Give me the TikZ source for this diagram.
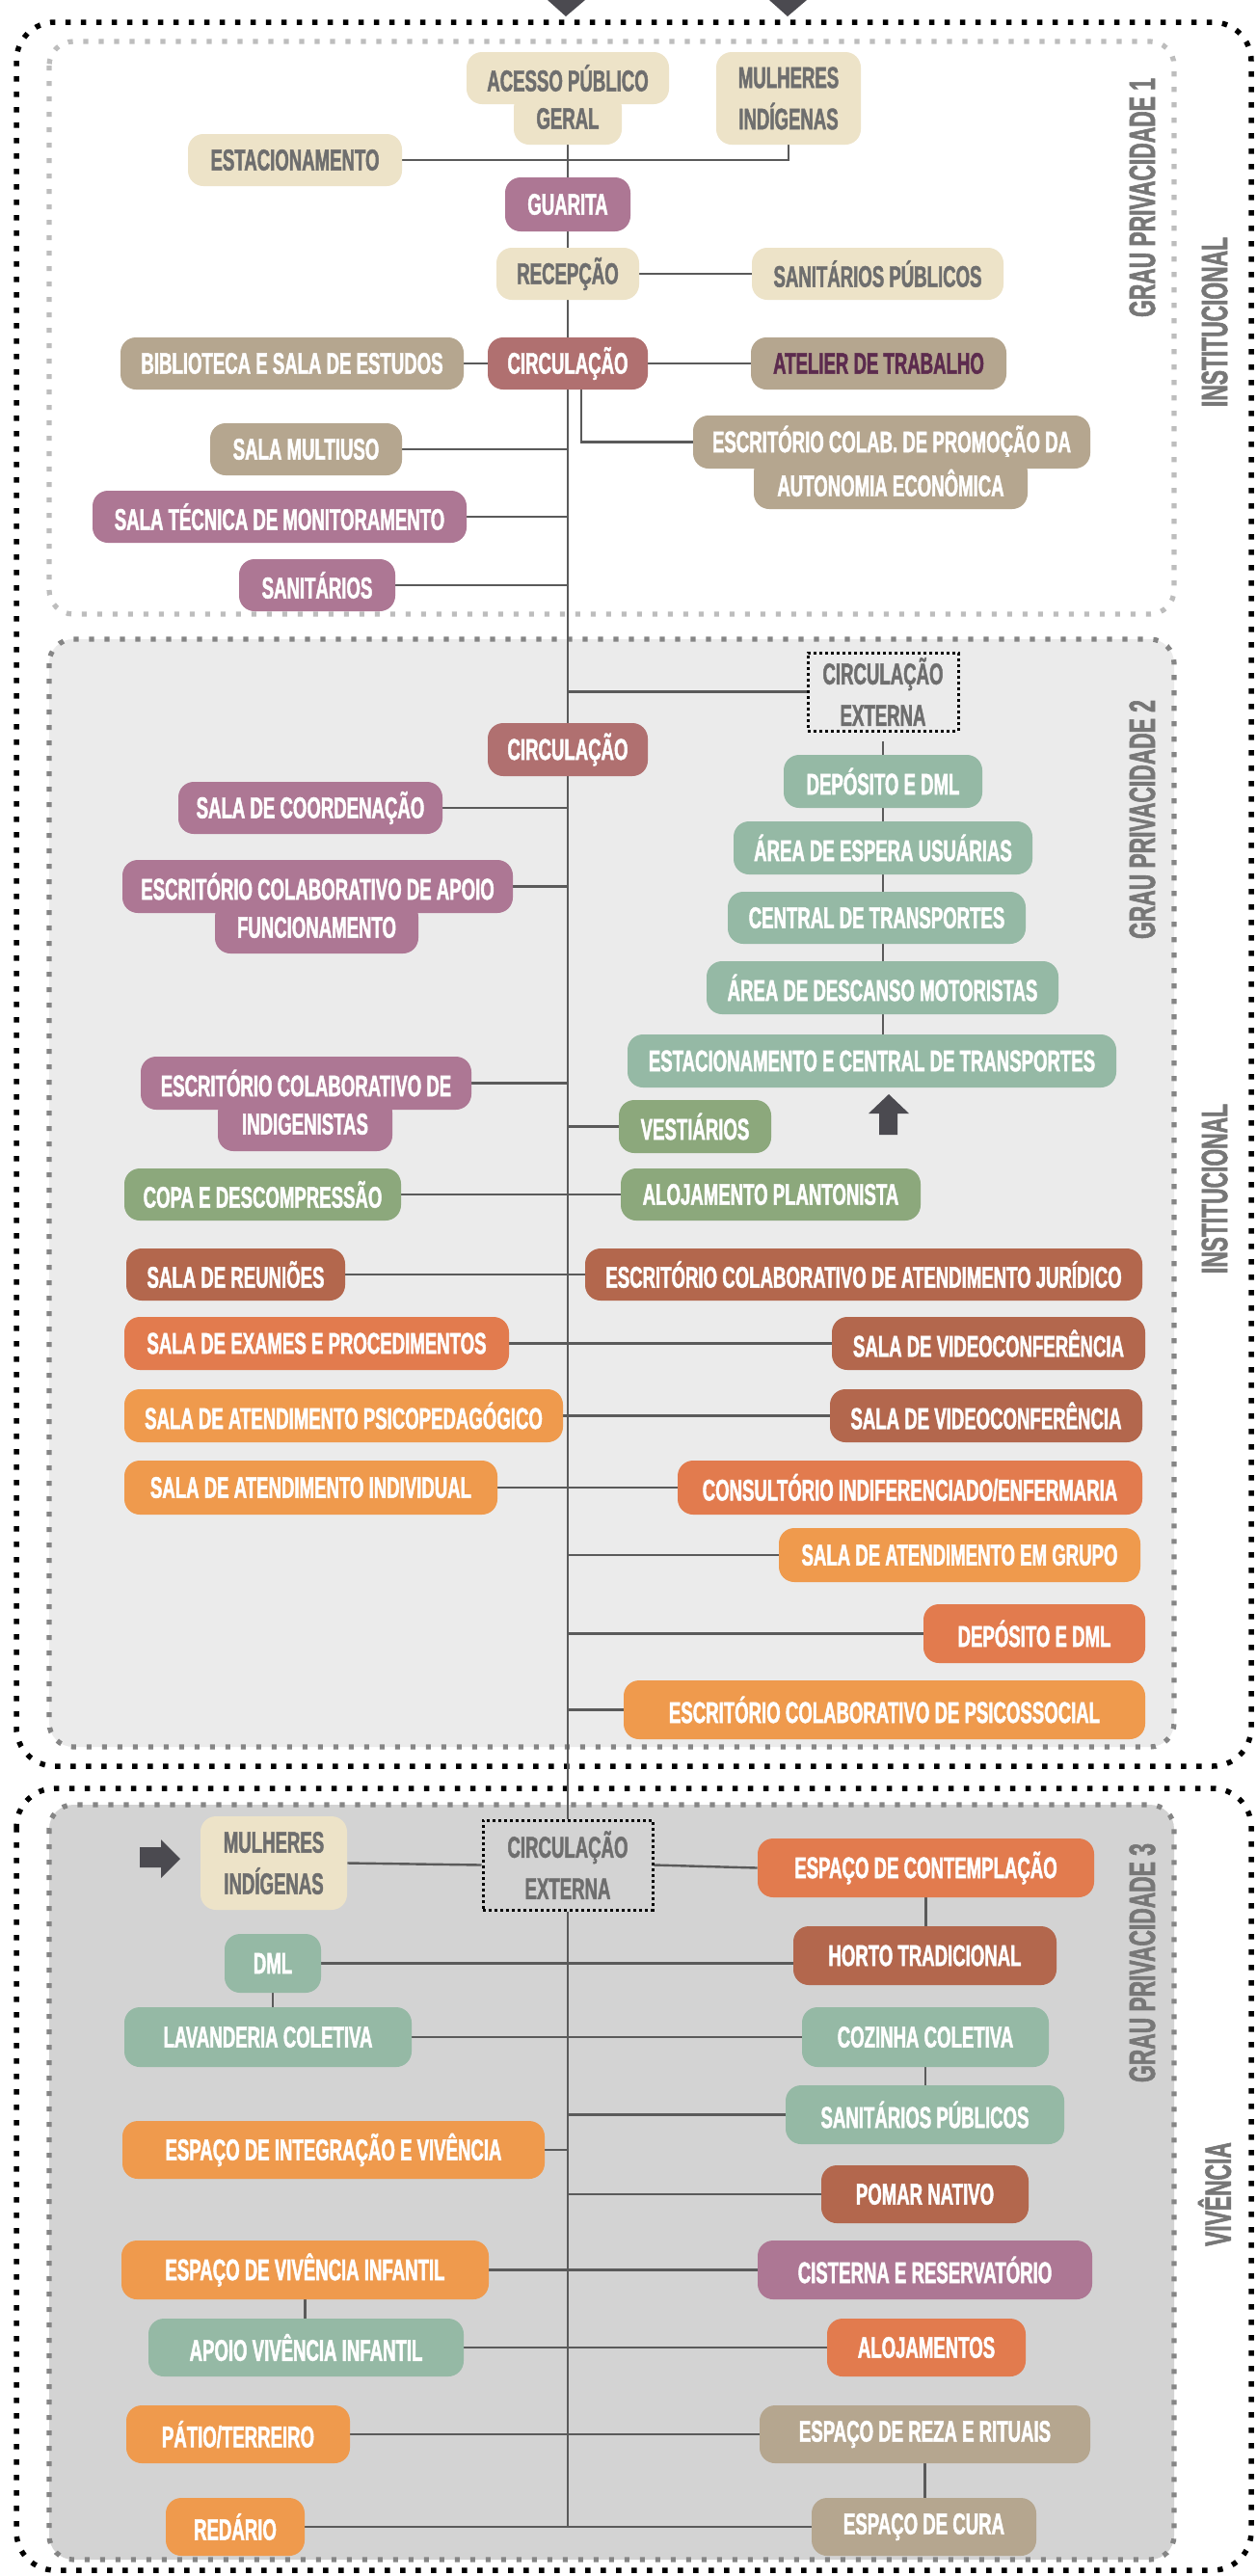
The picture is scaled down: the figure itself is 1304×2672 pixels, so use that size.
\documentclass[tikz,border=0pt]{standalone}
\usepackage{fontspec}
\newfontfamily\cf{Liberation Sans}[FakeStretch=0.6, FakeBold=1.5]
\pgfdeclarelayer{zone}\pgfdeclarelayer{wire}
\pgfsetlayers{zone,wire,main}
\definecolor{cBei}{HTML}{EDE3C8}
\definecolor{cPur}{HTML}{AD7794}
\definecolor{cRos}{HTML}{B07070}
\definecolor{cTau}{HTML}{B5A68F}
\definecolor{cGrn}{HTML}{95B9A5}
\definecolor{cOli}{HTML}{8CA87C}
\definecolor{cBrn}{HTML}{B3674D}
\definecolor{cOrg}{HTML}{E27B4E}
\definecolor{cLor}{HTML}{EF9A4D}
\definecolor{cTxt}{HTML}{6E6E6E}
\definecolor{cLine}{HTML}{5A5A5A}
\definecolor{cArr}{HTML}{4B4A50}
\definecolor{cZtwo}{HTML}{EBEBEB}
\definecolor{cZthree}{HTML}{D3D3D3}
\definecolor{cDash}{HTML}{858585}
\definecolor{cDashL}{HTML}{BDBDBD}
\definecolor{cLab}{HTML}{777777}
\definecolor{cAte}{HTML}{5C2B4E}
\tikzset{
  room/.style={rounded corners=8pt, inner sep=0pt, text=white, align=center,
    font=\cf\bfseries\fontsize{15.5}{21.5}\selectfont},
  bei/.style={room, fill=cBei, text=cTxt},
  pur/.style={room, fill=cPur},
  ros/.style={room, fill=cRos},
  tau/.style={room, fill=cTau},
  grn/.style={room, fill=cGrn},
  oli/.style={room, fill=cOli},
  brn/.style={room, fill=cBrn},
  org/.style={room, fill=cOrg},
  lor/.style={room, fill=cLor},
  ext/.style={inner sep=0pt, draw=black, line width=1.5pt, dash pattern=on 1.5pt off 1.5pt,
    text=cTxt, align=center, font=\cf\bfseries\fontsize{15.5}{21.5}\selectfont},
  wire/.style={draw=cLine, line width=1.2pt},
  lab/.style={text=cLab, rotate=90, inner sep=0pt, font=\cf\bfseries\fontsize{19}{20}\selectfont},
  outerz/.style={draw=black, line width=2.75pt, dash pattern=on 2.75pt off 5.25pt, rounded corners=20pt},
  innerz/.style={line width=2.6pt, dash pattern=on 2.6pt off 5.4pt, rounded corners=12.5pt},
}
\newcommand\bx[7]{\node[#2, minimum width={(#5-(#3))*0.5pt}, minimum height={(#6-(#4))*0.5pt}] (#1) at ({(#3+#5)/2},{(#4+#6)/2}) {#7};}
\begin{document}
\begin{tikzpicture}[x=0.5pt,y=-0.5pt]
\useasboundingbox (0,0) rectangle (1304,2672);
\begin{pgfonlayer}{zone}
\fill[white] (0,0) rectangle (1304,2672);
\draw[innerz, draw=cDashL, fill=white] (51,43) rectangle (1218,637);
\draw[innerz, draw=cDash, fill=cZtwo] (51,663) rectangle (1218,1812);
\draw[innerz, draw=cDash, fill=cZthree] (51,1872) rectangle (1218,2655);
\draw[outerz] (17,23) rectangle (1298,1832);
\draw[outerz] (17,1855) rectangle (1298,2666);
\end{pgfonlayer}
% arrows
\fill[cArr] (568,0) -- (607,0) -- (587,17) -- cycle;
\fill[cArr] (798,0) -- (837,0) -- (817,17) -- cycle;
\fill[cArr] (912,1177) -- (931,1177) -- (931,1155) -- (943,1155) -- (922,1135) -- (901,1155) -- (912,1155) -- cycle;
\fill[cArr] (145,1916) -- (167,1916) -- (167,1908) -- (187,1928) -- (167,1948) -- (167,1937) -- (145,1937) -- cycle;
% labels
\node[lab] (gp1) at (1185,205) {GRAU PRIVACIDADE 1};
\node[lab] (in1) at (1260,334) {INSTITUCIONAL};
\node[lab] (gp2) at (1185,850) {GRAU PRIVACIDADE 2};
\node[lab] (in2) at (1260,1233) {INSTITUCIONAL};
\node[lab] (gp3) at (1185,2036) {GRAU PRIVACIDADE 3};
\node[lab] (viv) at (1260,2276) {VIVÊNCIA};
% zone 1
\bx{acc1}{bei}{484}{54}{694}{108}{ACESSO PÚBLICO}
\bx{acc2}{bei}{533}{96}{645}{150}{GERAL}
\bx{mul1}{bei}{743}{54}{893}{150}{MULHERES\\INDÍGENAS}
\bx{est}{bei}{195}{139}{417}{193}{ESTACIONAMENTO}
\bx{gua}{pur}{524}{184}{654}{240}{GUARITA}
\bx{rec}{bei}{515}{257}{663}{311}{RECEPÇÃO}
\bx{sanA}{bei}{780}{257}{1041}{311}{SANITÁRIOS PÚBLICOS}
\bx{cirA}{ros}{506}{350}{672}{404}{CIRCULAÇÃO}
\bx{bib}{tau}{125}{350}{481}{404}{BIBLIOTECA E SALA DE ESTUDOS}
\bx{ate}{tau, text=cAte}{779}{350}{1044}{404}{ATELIER DE TRABALHO}
\bx{epaA}{tau}{719}{431}{1131}{486}{ESCRITÓRIO COLAB. DE PROMOÇÃO DA}
\bx{epaB}{tau}{782}{474}{1066}{528}{AUTONOMIA ECONÔMICA}
\bx{mult}{tau}{218}{439}{417}{493}{SALA MULTIUSO}
\bx{stm}{pur}{96}{509}{484}{563}{SALA TÉCNICA DE MONITORAMENTO}
\bx{sant}{pur}{248}{580}{410}{634}{SANITÁRIOS}
% zone 2
\bx{ceB}{ext}{838}{677}{994}{758}{CIRCULAÇÃO\\EXTERNA}
\bx{cirB}{ros}{506}{750}{672}{805}{CIRCULAÇÃO}
\bx{coo}{pur}{185}{811}{459}{865}{SALA DE COORDENAÇÃO}
\bx{apoA}{pur}{127}{892}{532}{947}{ESCRITÓRIO COLABORATIVO DE APOIO}
\bx{apoB}{pur}{223}{935}{434}{989}{FUNCIONAMENTO}
\bx{dep}{grn}{813}{783}{1019}{838}{DEPÓSITO E DML}
\bx{esp}{grn}{761}{852}{1071}{907}{ÁREA DE ESPERA USUÁRIAS}
\bx{ctr}{grn}{755}{925}{1064}{979}{CENTRAL DE TRANSPORTES}
\bx{des}{grn}{733}{997}{1098}{1052}{ÁREA DE DESCANSO MOTORISTAS}
\bx{etr}{grn}{651}{1073}{1158}{1128}{ESTACIONAMENTO E CENTRAL DE TRANSPORTES}
\bx{indA}{pur}{146}{1096}{489}{1151}{ESCRITÓRIO COLABORATIVO DE}
\bx{indB}{pur}{226}{1138}{407}{1194}{INDIGENISTAS}
\bx{ves}{oli}{642}{1141}{800}{1196}{VESTIÁRIOS}
\bx{copa}{oli}{129}{1212}{416}{1266}{COPA E DESCOMPRESSÃO}
\bx{alo}{oli}{644}{1212}{955}{1266}{ALOJAMENTO PLANTONISTA}
\bx{reu}{brn}{131}{1295}{358}{1349}{SALA DE REUNIÕES}
\bx{jur}{brn}{607}{1295}{1185}{1349}{ESCRITÓRIO COLABORATIVO DE ATENDIMENTO JURÍDICO}
\bx{exa}{org}{129}{1366}{528}{1421}{SALA DE EXAMES E PROCEDIMENTOS}
\bx{vidA}{brn}{863}{1366}{1188}{1421}{SALA DE VIDEOCONFERÊNCIA}
\bx{psi}{lor}{129}{1441}{584}{1496}{SALA DE ATENDIMENTO PSICOPEDAGÓGICO}
\bx{vidB}{brn}{861}{1441}{1185}{1496}{SALA DE VIDEOCONFERÊNCIA}
\bx{indv}{lor}{129}{1515}{516}{1571}{SALA DE ATENDIMENTO INDIVIDUAL}
\bx{enf}{org}{703}{1515}{1185}{1571}{CONSULTÓRIO INDIFERENCIADO/ENFERMARIA}
\bx{grp}{lor}{808}{1585}{1183}{1641}{SALA DE ATENDIMENTO EM GRUPO}
\bx{dmlB}{org}{958}{1664}{1188}{1725}{DEPÓSITO E DML}
\bx{psc}{lor}{647}{1743}{1188}{1804}{ESCRITÓRIO COLABORATIVO DE PSICOSSOCIAL}
% zone 3
\bx{mulC}{bei}{208}{1884}{360}{1981}{MULHERES\\INDÍGENAS}
\bx{ceC}{ext}{501}{1888}{677}{1981}{CIRCULAÇÃO\\EXTERNA}
\bx{cont}{org}{786}{1907}{1135}{1968}{ESPAÇO DE CONTEMPLAÇÃO}
\bx{hor}{brn}{823}{1998}{1096}{2059}{HORTO TRADICIONAL}
\bx{dmlC}{grn}{233}{2006}{333}{2067}{DML}
\bx{lav}{grn}{129}{2082}{427}{2144}{LAVANDERIA COLETIVA}
\bx{coz}{grn}{832}{2082}{1088}{2144}{COZINHA COLETIVA}
\bx{sanp}{grn}{815}{2163}{1104}{2224}{SANITÁRIOS PÚBLICOS}
\bx{int}{lor}{127}{2200}{565}{2260}{ESPAÇO DE INTEGRAÇÃO E VIVÊNCIA}
\bx{pom}{brn}{852}{2246}{1067}{2306}{POMAR NATIVO}
\bx{inf}{lor}{126}{2324}{507}{2385}{ESPAÇO DE VIVÊNCIA INFANTIL}
\bx{cis}{pur}{786}{2324}{1133}{2385}{CISTERNA E RESERVATÓRIO}
\bx{apv}{grn}{154}{2405}{481}{2465}{APOIO VIVÊNCIA INFANTIL}
\bx{alj}{org}{858}{2405}{1064}{2465}{ALOJAMENTOS}
\bx{pat}{lor}{131}{2495}{363}{2555}{PÁTIO/TERREIRO}
\bx{rez}{tau}{788}{2495}{1131}{2555}{ESPAÇO DE REZA E RITUAIS}
\bx{red}{lor}{172}{2591}{316}{2651}{REDÁRIO}
\bx{cura}{tau}{842}{2591}{1075}{2651}{ESPAÇO DE CURA}
\begin{pgfonlayer}{wire}
\draw[wire] (acc2.south) -- (gua.north);
\draw[wire] (gua.south) -- (rec.north);
\draw[wire] (rec.south) -- (cirA.north);
\draw[wire] (cirA.south) -- (cirB.north);
\draw[wire] (cirB.south) -- (ceC.north);
\draw[wire] (ceC.south) -- (ceC.south |- red.east);
\draw[wire] (est.east) -| (mul1.south);
\draw[wire] (rec.east) -- (sanA.west);
\draw[wire] (bib.east) -- (cirA.west);
\draw[wire] (cirA.east) -- (ate.west);
\draw[wire] ([xshift=7pt]cirA.south) |- (epaA.west);
\draw[wire] (mult.east) -- (mult.east -| cirA.south);
\draw[wire] (stm.east) -- (stm.east -| cirA.south);
\draw[wire] (sant.east) -- (sant.east -| cirA.south);
\draw[wire] (ceB.west -| cirA.south) -- (ceB.west);
\draw[wire, shorten <=4.5pt] (ceB.south) -- (ceB.south |- etr.north);
\draw[wire] (coo.east) -- (coo.east -| cirB.south);
\draw[wire] (apoA.east) -- (apoA.east -| cirB.south);
\draw[wire] (indA.east) -- (indA.east -| cirB.south);
\draw[wire] (ves.west) -- (ves.west -| cirB.south);
\draw[wire] (copa.east) -- (alo.west);
\draw[wire] (reu.east) -- (jur.west);
\draw[wire] (exa.east) -- (vidA.west);
\draw[wire] (psi.east) -- (vidB.west);
\draw[wire] (indv.east) -- (enf.west);
\draw[wire] (grp.west) -- (grp.west -| cirB.south);
\draw[wire] (dmlB.west) -- (dmlB.west -| cirB.south);
\draw[wire] (psc.west) -- (psc.west -| cirB.south);
\draw[wire] (mulC.east) -- (ceC.west);
\draw[wire] (ceC.east) -- (cont.west);
\draw[wire] (cont.south) -- (cont.south |- hor.north);
\draw[wire] (dmlC.east) -- (dmlC.east -| hor.west);
\draw[wire] (dmlC.south) -- (dmlC.south |- lav.north);
\draw[wire] (lav.east) -- (coz.west);
\draw[wire] (coz.south) -- (coz.south |- sanp.north);
\draw[wire] (sanp.west) -- (sanp.west -| ceC.south);
\draw[wire] (int.east) -- (int.east -| ceC.south);
\draw[wire] (pom.west) -- (pom.west -| ceC.south);
\draw[wire] (inf.east) -- (cis.west);
\draw[wire] (inf.south) -- (inf.south |- apv.north);
\draw[wire] (apv.east) -- (alj.west);
\draw[wire] (pat.east) -- (rez.west);
\draw[wire] (rez.south) -- (rez.south |- cura.north);
\draw[wire] (red.east) -- (cura.west);
\end{pgfonlayer}
\end{tikzpicture}
\end{document}
